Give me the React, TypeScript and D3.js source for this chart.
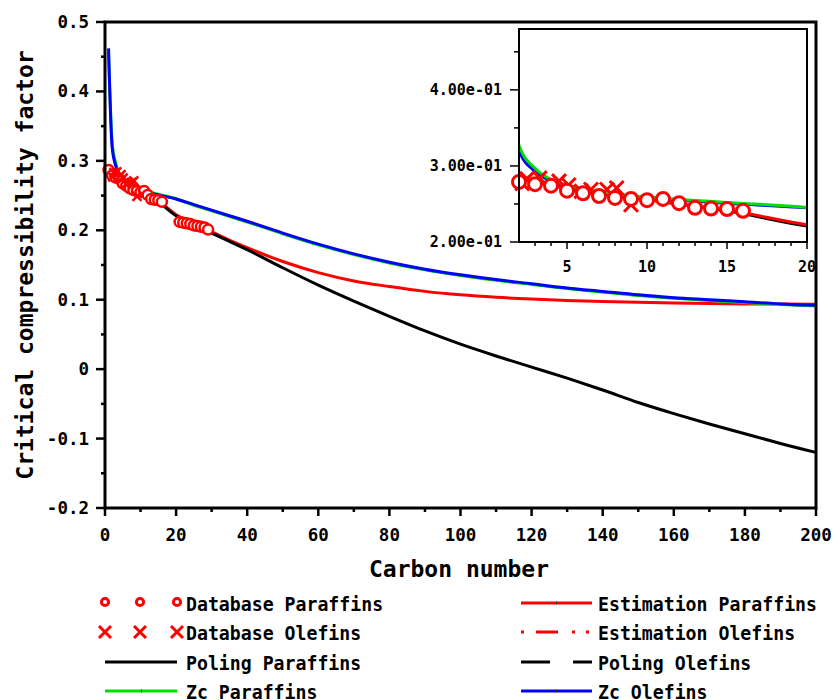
import React from "react";
import * as d3 from "d3";

// ---- data ----
const curveX = [1, 2, 3, 4, 5, 6, 8, 10, 12, 15, 20, 25, 30, 35, 40, 50, 60, 70, 80, 90, 100, 110, 120, 130, 140, 150, 160, 170, 180, 190, 200];
const polingParaffins = [0.290, 0.284, 0.279, 0.275, 0.270, 0.266, 0.261, 0.256, 0.250, 0.241, 0.221, 0.209, 0.196, 0.184, 0.172, 0.146, 0.121, 0.098, 0.076, 0.055, 0.036, 0.019, 0.003, -0.013, -0.030, -0.048, -0.064, -0.079, -0.093, -0.107, -0.120];
const estimationParaffins = [0.289, 0.283, 0.279, 0.275, 0.270, 0.266, 0.261, 0.256, 0.250, 0.242, 0.2225, 0.210, 0.198, 0.186, 0.175, 0.155, 0.139, 0.127, 0.119, 0.112, 0.107, 0.1035, 0.101, 0.099, 0.0975, 0.0963, 0.0953, 0.0945, 0.094, 0.0937, 0.0935];
const zcOlefins = [0.462, 0.320, 0.293, 0.280, 0.274, 0.269, 0.262, 0.258, 0.255, 0.251, 0.245, 0.237, 0.229, 0.221, 0.213, 0.196, 0.180, 0.166, 0.154, 0.144, 0.136, 0.129, 0.123, 0.117, 0.112, 0.107, 0.103, 0.100, 0.097, 0.094, 0.092];
const zcParaffins = [0.455, 0.327, 0.297, 0.282, 0.275, 0.270, 0.263, 0.259, 0.256, 0.252, 0.2455, 0.236, 0.228, 0.220, 0.212, 0.195, 0.179, 0.165, 0.153, 0.143, 0.135, 0.128, 0.122, 0.116, 0.111, 0.106, 0.102, 0.099, 0.096, 0.093, 0.091];

const dbParaffinsX = [1, 2, 3, 4, 5, 6, 7, 8, 9, 10, 11, 12, 13, 14, 15, 16, 21, 22, 23, 24, 25, 26, 27, 28, 29];
const dbParaffinsY = [0.287, 0.279, 0.276, 0.274, 0.2675, 0.264, 0.2605, 0.258, 0.2566, 0.255, 0.2566, 0.251, 0.245, 0.244, 0.2434, 0.241, 0.212, 0.211, 0.210, 0.209, 0.207, 0.206, 0.205, 0.204, 0.201];
const dbOlefinsX = [2.2, 2.5, 3.3, 4.5, 5.1, 5.9, 6.5, 7.5, 8.1, 9.0];
const dbOlefinsY = [0.277, 0.283, 0.284, 0.280, 0.275, 0.2665, 0.269, 0.269, 0.271, 0.249];

const mainXTicks = [0, 20, 40, 60, 80, 100, 120, 140, 160, 180, 200];
const mainYTicks = [-0.2, -0.1, 0, 0.1, 0.2, 0.3, 0.4, 0.5];
const insetXTicks = [5, 10, 15, 20];
const insetYTicks = [0.2, 0.3, 0.4];

const FONT = "'DejaVu Sans Mono', monospace";

function fmtE(v: number) {
  return v.toExponential(2).replace(/e([+-])(\d)$/, "e$10$2");
}

export default function App() {
  // main scales
  const x = d3.scaleLinear().domain([0, 200]).range([105, 816]);
  const y = d3.scaleLinear().domain([-0.2, 0.5]).range([508, 22]);
  // inset scales
  const ix = d3.scaleLinear().domain([2, 20]).range([519, 807]);
  const iy = d3.scaleLinear().domain([0.2, 0.48]).range([242, 29]);

  const mk = (sx: any, sy: any, ys: number[]) =>
    d3.line<number>().x((_, i) => sx(curveX[i])).y((d) => sy(d)).curve(d3.curveMonotoneX)(ys) || "";

  const mainMinorX = d3.range(10, 200, 20);
  const mainMinorY = d3.range(-0.15, 0.5, 0.1);
  const insetMinorX = d3.range(3, 20, 1).filter((v) => v % 5 !== 0);
  const insetMinorY = [0.25, 0.35, 0.45];

  const cross = (cx: number, cy: number, s: number, sw: number, key: string) => (
    <path key={key} d={`M${cx - s},${cy - s}L${cx + s},${cy + s}M${cx - s},${cy + s}L${cx + s},${cy - s}`} stroke="#ff0000" strokeWidth={sw} fill="none" />
  );

  const legendRows = [603, 632, 662, 691];
  const charW = 10.95;

  return (
    <svg width={834} height={700} style={{ position: "absolute", left: 0, top: 0, background: "#fff" }} fontFamily={FONT}>
      <defs>
        <clipPath id="mainClip"><rect x={105} y={22} width={711} height={486} /></clipPath>
        <clipPath id="insetClip"><rect x={519} y={29} width={288} height={213} /></clipPath>
      </defs>
      <rect x={0} y={0} width={834} height={700} fill="#fff" />

      {/* main curves */}
      <g clipPath="url(#mainClip)" fill="none" strokeWidth={3} strokeLinejoin="round">
        <path d={mk(x, y, estimationParaffins)} stroke="#ff0000" />
        <path d={mk(x, y, polingParaffins)} stroke="#000" />
        <path d={mk(x, y, zcParaffins)} stroke="#00e000" />
        <path d={mk(x, y, zcOlefins)} stroke="#0000ff" />
      </g>
      {/* main markers */}
      <g>
        {dbParaffinsX.map((v, i) => (
          <circle key={"mc" + i} cx={x(v)} cy={y(dbParaffinsY[i])} r={5} fill="#fff" stroke="#ff0000" strokeWidth={2.5} />
        ))}
        {dbOlefinsX.map((v, i) => cross(x(v), y(dbOlefinsY[i]), 4.5, 2.5, "mx" + i))}
      </g>

      {/* main frame */}
      <rect x={105} y={22} width={711} height={486} fill="none" stroke="#000" strokeWidth={3} />
      {/* main ticks */}
      {mainXTicks.map((t) => (
        <g key={"xt" + t}>
          <line x1={x(t)} x2={x(t)} y1={508} y2={516} stroke="#000" strokeWidth={2.5} />
          <text x={x(t)} y={541} textAnchor="middle" fontSize={17.5} fontWeight="bold">{String(t)}</text>
        </g>
      ))}
      {mainMinorX.map((t) => (
        <line key={"xm" + t} x1={x(t)} x2={x(t)} y1={508} y2={512} stroke="#000" strokeWidth={2.5} />
      ))}
      {mainYTicks.map((t) => (
        <g key={"yt" + t}>
          <line x1={96} x2={105} y1={y(t)} y2={y(t)} stroke="#000" strokeWidth={2.5} />
          <text x={89} y={y(t) + 6} textAnchor="end" fontSize={17.5} fontWeight="bold">{String(Math.round(t * 10) / 10)}</text>
        </g>
      ))}
      {mainMinorY.map((t, i) => (
        <line key={"ym" + i} x1={101} x2={105} y1={y(t)} y2={y(t)} stroke="#000" strokeWidth={2.5} />
      ))}
      {/* axis titles */}
      <text x={459} y={577} textAnchor="middle" fontSize={23} fontWeight="bold">Carbon number</text>
      <text transform={`translate(33,265) rotate(-90)`} textAnchor="middle" fontSize={23} fontWeight="bold">Critical compressibility factor</text>

      {/* inset */}
      <rect x={519} y={29} width={288} height={213} fill="#fff" />
      <g clipPath="url(#insetClip)" fill="none" strokeWidth={3} strokeLinejoin="round">
        <path d={mk(ix, iy, polingParaffins)} stroke="#000" />
        <path d={mk(ix, iy, estimationParaffins)} stroke="#ff0000" />
        <path d={mk(ix, iy, zcOlefins)} stroke="#0000ff" />
        <path d={mk(ix, iy, zcParaffins)} stroke="#00e000" />
      </g>
      <g>
        {dbOlefinsX.map((v, i) => (v >= 2 && v <= 20 ? cross(ix(v), iy(dbOlefinsY[i]), 7, 3, "ix" + i) : null))}
        {dbParaffinsX.map((v, i) =>
          v >= 2 && v <= 20 ? (
            <circle key={"ic" + i} cx={ix(v)} cy={iy(dbParaffinsY[i])} r={6.5} fill="#fff" stroke="#ff0000" strokeWidth={3} />
          ) : null
        )}
      </g>
      <rect x={519} y={29} width={288} height={213} fill="none" stroke="#000" strokeWidth={2} />
      {insetXTicks.map((t) => (
        <g key={"ixt" + t}>
          <line x1={ix(t)} x2={ix(t)} y1={242} y2={249} stroke="#000" strokeWidth={1.5} />
          <text x={ix(t)} y={272} textAnchor="middle" fontSize={15} fontWeight="bold">{String(t)}</text>
        </g>
      ))}
      {insetMinorX.map((t) => (
        <line key={"ixm" + t} x1={ix(t)} x2={ix(t)} y1={242} y2={246} stroke="#000" strokeWidth={1.5} />
      ))}
      {insetYTicks.map((t) => (
        <g key={"iyt" + t}>
          <line x1={510} x2={519} y1={iy(t)} y2={iy(t)} stroke="#000" strokeWidth={1.5} />
          <text x={502} y={iy(t) + 5} textAnchor="end" fontSize={15} fontWeight="bold">{fmtE(t)}</text>
        </g>
      ))}
      {insetMinorY.map((t) => (
        <line key={"iym" + t} x1={514} x2={519} y1={iy(t)} y2={iy(t)} stroke="#000" strokeWidth={1.5} />
      ))}

      {/* legend */}
      <g fontSize={20} fontWeight="bold">
        {[105, 140, 177].map((cx, i) => (
          <circle key={"lc" + i} cx={cx} cy={legendRows[0] - 1} r={3.6} fill="#fff" stroke="#ff0000" strokeWidth={3} />
        ))}
        {[105, 140, 177].map((cx, i) => cross(cx, legendRows[1], 6, 3, "lx" + i))}
        <line x1={105} x2={177} y1={legendRows[2]} y2={legendRows[2]} stroke="#000" strokeWidth={3} />
        <line x1={105} x2={177} y1={legendRows[3]} y2={legendRows[3]} stroke="#00e000" strokeWidth={3} />
        <rect x={141} y={legendRows[3] - 1.5} width={1} height={3} fill="#333" />

        <line x1={521} x2={592} y1={legendRows[0]} y2={legendRows[0]} stroke="#ff0000" strokeWidth={3} />
        <rect x={556} y={legendRows[0] - 1.5} width={1} height={3} fill="#333" />
        <line x1={521} x2={592} y1={legendRows[1]} y2={legendRows[1]} stroke="#ff0000" strokeWidth={3} strokeDasharray="3 12 22 14 3 11 3 20" />
        <line x1={521} x2={592} y1={legendRows[2]} y2={legendRows[2]} stroke="#000" strokeWidth={3} strokeDasharray="29 23 20" />
        <line x1={521} x2={592} y1={legendRows[3]} y2={legendRows[3]} stroke="#0000ff" strokeWidth={3} />
        <rect x={556} y={legendRows[3] - 1.5} width={1} height={3} fill="#333" />

        {[
          ["Database Paraffins", 186, 0],
          ["Database Olefins", 186, 1],
          ["Poling Paraffins", 186, 2],
          ["Zc Paraffins", 186, 3],
          ["Estimation Paraffins", 598, 0],
          ["Estimation Olefins", 598, 1],
          ["Poling Olefins", 598, 2],
          ["Zc Olefins", 598, 3],
        ].map(([t, lx, r]) => (
          <text key={t as string} x={lx as number} y={legendRows[r as number] + 7.5} textLength={(t as string).length * charW} lengthAdjust="spacingAndGlyphs">{t as string}</text>
        ))}
      </g>
    </svg>
  );
}
